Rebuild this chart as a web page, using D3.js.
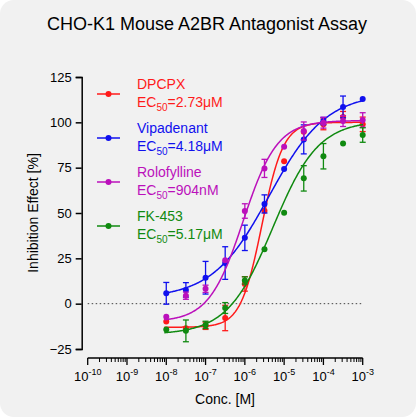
<!DOCTYPE html><html><head><meta charset="utf-8"><script src="https://cdn.jsdelivr.net/npm/d3@7"></script>
<style>body{margin:0;background:#fff}text{font-family:Arial,"Liberation Sans",sans-serif}</style></head><body><svg id="c" width="416" height="417"></svg><script>
const conc=[1e-8,3.16e-8,1e-7,3.16e-7,1e-6,3.16e-6,1e-5,3.16e-5,1e-4,3.16e-4,1e-3];
const names=["DPCPX","Vipadenant","Rolofylline","FK-453"];
const ec50Labels=["2.73μM","4.18μM","904nM","5.17μM"];
const colors=["#ff1a1a","#1010ee","#bb10bb","#108a10"];
const dpcpx=[-9.8,-13.5,-12.2,-7.9,10.9,51.3,78.5,94.8,98.9,103,98.9];
const dpcpxErr=[0,0,2,7,4,0,0,0,3,3,4];
const vipadenant=[5.7,7.6,14.3,22.4,36.3,55,74.3,90.6,100.7,108.5,112.8];
const vipadenantErr=[6,4,9,9,7,5,0,8,2,6,0];
const rolofylline=[-7.2,4.4,8.2,23.9,51.1,74.6,86.5,95.2,99.8,100.7,101.3];
const rolofyllineErr=[0,2,2,0,4,5,0,5,3,3,4];
const fk453=[-14.3,-15,-11.7,-2.4,12.8,30,50.2,69.1,81.3,88.3,93];
const fk453Err=[0,6,2,3,2,0,0,7,7,0,4];
// 4PL fit parameters: bottom, top, ec50, hill
const fits=[[-13,100,2.73e-6,1.6],[3,116,4.18e-6,0.6],[-10,101,9.04e-7,1.0],[-17,101,5.17e-6,0.75]];
const series=[dpcpx,vipadenant,rolofylline,fk453], errs=[dpcpxErr,vipadenantErr,rolofyllineErr,fk453Err];
const yTicks=[-25,0,25,50,75,100,125];
const xTicks=[-10,-9,-8,-7,-6,-5,-4,-3];
const svg=d3.select("#c");
svg.append("rect").attr("width",416).attr("height",417).attr("rx",14).attr("fill","#f1f1f1");
const x=d3.scaleLog().domain([1e-10,1e-3]).range([87.7,362.7]);
const y=d3.scaleLinear().domain([-25,125]).range([349,77]);
svg.append("text").attr("x",207).attr("y",30).attr("text-anchor","middle").attr("font-size",18).text("CHO-K1 Mouse A2BR Antagonist Assay");
const ya=svg.append("g").attr("transform","translate(81.7,0)").call(d3.axisLeft(y).tickValues(yTicks).tickSize(6).tickPadding(4));
ya.selectAll("text").attr("font-size",13).attr("fill","#000");
ya.selectAll("path,line").attr("stroke","#000").attr("stroke-width",1.5);
const xa=svg.append("g").attr("transform","translate(0,358)");
xa.append("line").attr("x1",x(1e-10)).attr("x2",x(1e-3)).attr("stroke","#000").attr("stroke-width",1.5);
for(let d=-10;d<=-3;d++){xa.append("line").attr("x1",x(10**d)).attr("x2",x(10**d)).attr("y1",0).attr("y2",7).attr("stroke","#000").attr("stroke-width",1.3);
 if(d<-3)for(let m=2;m<10;m++)xa.append("line").attr("x1",x(m*10**d)).attr("x2",x(m*10**d)).attr("y1",0).attr("y2",4).attr("stroke","#000");}
xTicks.forEach(d=>{const t=xa.append("text").attr("x",x(10**d)).attr("y",23).attr("text-anchor","middle").attr("font-size",13);
 t.append("tspan").text("10");t.append("tspan").attr("dy",-6).attr("font-size",9).text(d);});
svg.append("text").attr("x",225).attr("y",404).attr("text-anchor","middle").attr("font-size",14).text("Conc. [M]");
svg.append("text").attr("transform","translate(38,213) rotate(-90)").attr("text-anchor","middle").attr("font-size",14).text("Inhibition Effect [%]");
svg.append("line").attr("x1",x(1e-10)).attr("x2",x(1e-3)).attr("y1",y(0)).attr("y2",y(0)).attr("stroke","#444").attr("stroke-dasharray","1.5,2.5");
const curveX=d3.range(-8.05,-2.99,0.02).map(l=>10**l);
series.forEach((s,i)=>{const c=colors[i],[b,t,e,h]=fits[i];
 svg.append("path").datum(curveX).attr("fill","none").attr("stroke",c).attr("stroke-width",1.5)
  .attr("d",d3.line().x(v=>x(v)).y(v=>y(b+(t-b)/(1+Math.pow(e/v,h)))));
 s.forEach((v,j)=>{const er=errs[i][j],cx=x(conc[j]);
  if(er>0){svg.append("line").attr("x1",cx).attr("x2",cx).attr("y1",y(v-er)).attr("y2",y(v+er)).attr("stroke",c).attr("stroke-width",1.3);
   [v-er,v+er].forEach(w=>svg.append("line").attr("x1",cx-3).attr("x2",cx+3).attr("y1",y(w)).attr("y2",y(w)).attr("stroke",c).attr("stroke-width",1.3));}
  svg.append("circle").attr("cx",cx).attr("cy",y(v)).attr("r",3).attr("fill",c);});
 const ly=94+i*44;
 svg.append("line").attr("x1",97).attr("x2",120).attr("y1",ly).attr("y2",ly).attr("stroke",c).attr("stroke-width",1.5);
 svg.append("circle").attr("cx",108.5).attr("cy",ly).attr("r",3).attr("fill",c);
 svg.append("text").attr("x",137).attr("y",ly-5).attr("font-size",14).attr("fill",c).text(names[i]);
 const t2=svg.append("text").attr("x",137).attr("y",ly+13).attr("font-size",14).attr("fill",c);
 t2.append("tspan").text("EC");t2.append("tspan").attr("dy",4).attr("font-size",10).text("50");t2.append("tspan").attr("dy",-4).text("="+ec50Labels[i]);
});
</script></body></html>
